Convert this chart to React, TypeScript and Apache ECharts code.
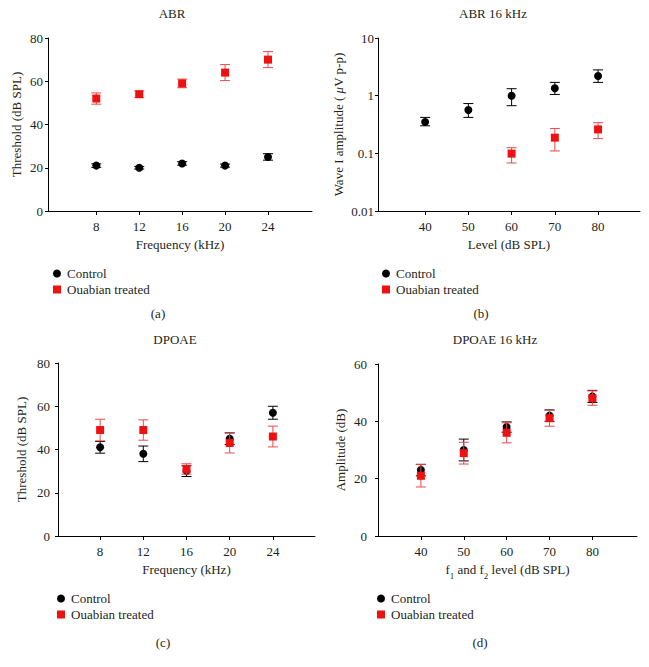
import React, { useEffect, useRef } from "react";
import * as echarts from "echarts";

// ---- Data ----
const freqs = [8, 12, 16, 20, 24];
const levels = [40, 50, 60, 70, 80];

// (a) ABR thresholds
const abrControl = [21, 20, 22, 21, 25];
const abrControlErr = [0.8, 0.6, 0.8, 0.7, 1.5];
const abrOuabain = [52, 54, 59, 64, 70];
const abrOuabainErr = [2.6, 1.5, 2, 3.7, 3.7];

// (b) ABR 16 kHz wave I amplitude
const ampControl = [0.35, 0.565, 1.0, 1.34, 2.2];
const ampControlLow = [0.3, 0.42, 0.67, 1.05, 1.7];
const ampControlHigh = [0.42, 0.73, 1.32, 1.7, 2.8];
const ampOuabainLevels = [60, 70, 80];
const ampOuabain = [0.099, 0.187, 0.26];
const ampOuabainLow = [0.068, 0.11, 0.18];
const ampOuabainHigh = [0.125, 0.27, 0.34];

// (c) DPOAE thresholds
const dpControl = [41, 38, 30, 45, 57];
const dpControlErr = [2.7, 3.6, 2.5, 2.7, 3];
const dpOuabain = [49, 49, 31, 43, 46];
const dpOuabainErr = [5, 4.7, 2.4, 4.6, 4.8];

// (d) DPOAE 16 kHz amplitude
const dp16Control = [23, 30, 38, 42, 48.7];
const dp16ControlErr = [2, 3.8, 1.8, 2, 2.1];
const dp16Ouabain = [21, 28.9, 36, 41.1, 48.1];
const dp16OuabainErr = [3.9, 3.8, 3.5, 2.8, 2.5];

const FONT = "Liberation Serif";
const TXT = "#231f20";
const BLACK = "#000000";
const RED = "#ee1111";
const RED_ERR = "#e84a4a";

const pts = (xs: number[], ys: number[]) => xs.map((x, i) => [x, ys[i]]);
const errSym = (xs: number[], ys: number[], e: number[]) =>
  xs.map((x, i) => [x, ys[i] - e[i], ys[i] + e[i]]);
const errLH = (xs: number[], lo: number[], hi: number[]) =>
  xs.map((x, i) => [x, lo[i], hi[i]]);

const errRender = (color: string) => (params: any, api: any) => {
  const x = api.value(0);
  const lo = api.coord([x, api.value(1)]);
  const hi = api.coord([x, api.value(2)]);
  const hw = 5;
  const style = { stroke: color, lineWidth: 1 };
  return {
    type: "group",
    children: [
      { type: "line", shape: { x1: lo[0], y1: lo[1], x2: hi[0], y2: hi[1] }, style },
      { type: "line", shape: { x1: lo[0] - hw, y1: lo[1], x2: lo[0] + hw, y2: lo[1] }, style },
      { type: "line", shape: { x1: hi[0] - hw, y1: hi[1], x2: hi[0] + hw, y2: hi[1] }, style },
    ],
  };
};

const axisLine = { show: true, lineStyle: { color: BLACK, width: 1 } };
const txt = { fontFamily: FONT, fontSize: 13, color: TXT };

function xAxis(gi: number, min: number, max: number, ticks: number[], name: any, rich?: any) {
  return {
    type: "value",
    gridIndex: gi,
    min,
    max,
    axisLine,
    axisTick: { show: true, length: 4, lineStyle: { color: BLACK }, customValues: ticks },
    axisLabel: { ...txt, margin: 9, customValues: ticks },
    splitLine: { show: false },
    name,
    nameLocation: "middle",
    nameGap: 27,
    nameTextStyle: { ...txt, rich },
  };
}

function yAxis(gi: number, min: number, max: number, interval: number, name: string, labelMargin: number, nameGap: number) {
  return {
    type: "value",
    gridIndex: gi,
    min,
    max,
    interval,
    axisLine,
    axisTick: { show: true, length: 3, lineStyle: { color: BLACK } },
    axisLabel: { ...txt, margin: labelMargin },
    splitLine: { show: false },
    name,
    nameLocation: "middle",
    nameGap,
    nameTextStyle: txt,
  };
}

function panelSeries(gi: number, ctrl: number[][], ctrlErr: number[][], oua: number[][], ouaErr: number[][]) {
  return [
    {
      type: "custom",
      name: "ctrlErr" + gi,
      xAxisIndex: gi,
      yAxisIndex: gi,
      renderItem: errRender(BLACK),
      data: ctrlErr,
      encode: { x: 0, y: [1, 2] },
      z: 2,
    },
    {
      type: "scatter",
      name: "Control",
      xAxisIndex: gi,
      yAxisIndex: gi,
      symbol: "circle",
      symbolSize: 8,
      itemStyle: { color: BLACK, opacity: 1 },
      data: ctrl,
      z: 3,
    },
    {
      type: "custom",
      name: "ouaErr" + gi,
      xAxisIndex: gi,
      yAxisIndex: gi,
      renderItem: errRender(RED_ERR),
      data: ouaErr,
      encode: { x: 0, y: [1, 2] },
      z: 4,
    },
    {
      type: "scatter",
      name: "Ouabian treated",
      xAxisIndex: gi,
      yAxisIndex: gi,
      symbol: "rect",
      symbolSize: 8,
      itemStyle: { color: RED, opacity: 1 },
      data: oua,
      z: 5,
    },
  ];
}

function legend(left: number, top: number) {
  return {
    left,
    top,
    padding: 0,
    orient: "vertical",
    itemWidth: 8,
    itemHeight: 8,
    itemGap: 3,
    selectedMode: false,
    textStyle: { ...txt, lineHeight: 13, padding: [0, 0, 0, 1] },
    data: [
      { name: "Control", icon: "circle" },
      { name: "Ouabian treated", icon: "rect" },
    ],
  };
}

const label = (text: string, x: number, y: number) => ({
  type: "text",
  x,
  y,
  style: { text, fill: TXT, font: `13px "${FONT}"`, align: "center", verticalAlign: "middle" },
});

export default function App() {
  const ref = useRef<HTMLDivElement>(null);
  useEffect(() => {
    if (!ref.current) return;
    const chart = echarts.init(ref.current, undefined, { renderer: "svg" });
    const option: any = {
      animation: false,
      backgroundColor: "#ffffff",
      grid: [
        { left: 48, top: 38, width: 264, height: 173 },
        { left: 378, top: 38, width: 262, height: 173 },
        { left: 58, top: 363, width: 257, height: 173 },
        { left: 378, top: 364, width: 259, height: 172 },
      ],
      xAxis: [
        xAxis(0, 3.5, 28.1, freqs, "Frequency (kHz)"),
        xAxis(1, 29.1, 89.7, levels, "Level (dB SPL)"),
        xAxis(2, 4.1, 27.9, freqs, "Frequency (kHz)"),
        xAxis(3, 30, 90.4, levels, "f{s|1} and f{s|2} level (dB SPL)", {
          s: { fontFamily: FONT, fontSize: 9, color: TXT, verticalAlign: "bottom", padding: [0, 0, -4, 0] },
        }),
      ],
      yAxis: [
        yAxis(0, 0, 80, 20, "Threshold (dB SPL)", 5, 25),
        {
          type: "log",
          logBase: 10,
          gridIndex: 1,
          min: 0.01,
          max: 10,
          axisLine,
          axisTick: { show: true, length: 3, lineStyle: { color: BLACK } },
          minorTick: { show: false },
          axisLabel: {
            ...txt,
            margin: 4,
            formatter: (v: number) => {
              const l = Math.round(Math.log10(v));
              return ["0.01", "0.1", "1", "10"][l + 2] ?? String(v);
            },
          },
          splitLine: { show: false },
          name: "Wave I amplitude ( {i|μ}V p-p)",
          nameLocation: "middle",
          nameGap: 33,
          nameTextStyle: {
            ...txt,
            rich: { i: { fontFamily: FONT, fontSize: 13, color: TXT, fontStyle: "italic" } },
          },
        },
        yAxis(2, 0, 80, 20, "Threshold (dB SPL)", 8, 30),
        yAxis(3, 0, 60, 20, "Amplitude (dB)", 11, 31),
      ],
      legend: [legend(53, 267), legend(382, 267), legend(57, 592), legend(377, 592)],
      graphic: [
        label("ABR", 172, 13),
        label("ABR 16 kHz", 493, 13),
        label("DPOAE", 175, 339),
        label("DPOAE 16 kHz", 495, 339),
        label("(a)", 158, 313),
        label("(b)", 481, 313),
        label("(c)", 163, 642),
        label("(d)", 480, 642),
      ],
      series: [
        ...panelSeries(
          0,
          pts(freqs, abrControl),
          errSym(freqs, abrControl, abrControlErr),
          pts(freqs, abrOuabain),
          errSym(freqs, abrOuabain, abrOuabainErr)
        ),
        ...panelSeries(
          1,
          pts(levels, ampControl),
          errLH(levels, ampControlLow, ampControlHigh),
          pts(ampOuabainLevels, ampOuabain),
          errLH(ampOuabainLevels, ampOuabainLow, ampOuabainHigh)
        ),
        ...panelSeries(
          2,
          pts(freqs, dpControl),
          errSym(freqs, dpControl, dpControlErr),
          pts(freqs, dpOuabain),
          errSym(freqs, dpOuabain, dpOuabainErr)
        ),
        ...panelSeries(
          3,
          pts(levels, dp16Control),
          errSym(levels, dp16Control, dp16ControlErr),
          pts(levels, dp16Ouabain),
          errSym(levels, dp16Ouabain, dp16OuabainErr)
        ),
      ],
    };
    chart.setOption(option);
    return () => chart.dispose();
  }, []);
  return (
    <div
      ref={ref}
      style={{ position: "absolute", left: 0, top: 0, width: 649, height: 667, background: "#fff" }}
    />
  );
}
